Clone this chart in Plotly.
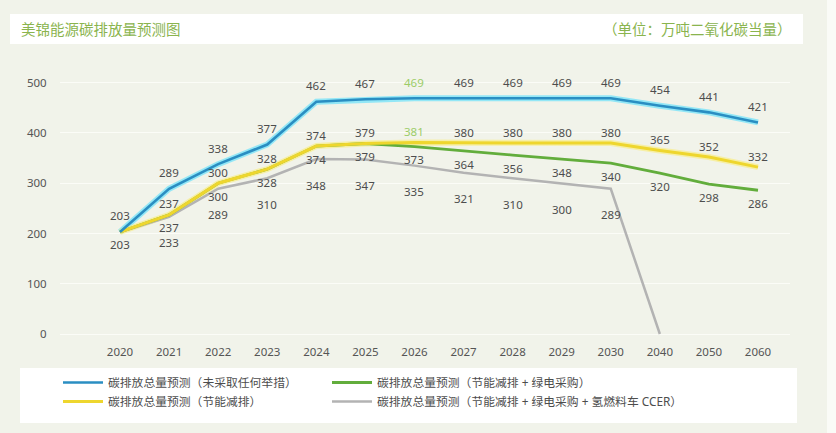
import plotly.graph_objects as go

years = ["2020", "2021", "2022", "2023", "2024", "2025", "2026", "2027",
         "2028", "2029", "2030", "2040", "2050", "2060"]
no_action = [203, 289, 338, 377, 462, 467, 469, 469, 469, 469, 469, 454, 441, 421]
energy_saving = [203, 237, 300, 328, 374, 379, 381, 380, 380, 380, 380, 365, 352, 332]
saving_green = [203, 237, 300, 328, 374, 379, 373, 364, 356, 348, 340, 320, 298, 286]
saving_green_h2 = [203, 233, 289, 310, 348, 347, 335, 321, 310, 300, 289, 0, None, None]

names = {
    "blue": "碳排放总量预测（未采取任何举措）",
    "green": "碳排放总量预测（节能减排 + 绿电采购）",
    "yellow": "碳排放总量预测（节能减排）",
    "gray": "碳排放总量预测（节能减排 + 绿电采购 + 氢燃料车 CCER）",
}
title_text = "美锦能源碳排放量预测图"
unit_text = "（单位：万吨二氧化碳当量）"

FONT = "Noto Sans, Noto Sans CJK SC, sans-serif"
TXT = "#4d4d4d"
HI = "#9ccc68"
BG = "#f1f3ea"

W, H = 836, 433
L, R, T, B = 60, 46, 60, 95
pw, ph = W - L - R, H - T - B


def px_x(p):
    return (p - L) / pw


def px_y(p):
    return (H - B - p) / ph


fig = go.Figure()

# soft glow under blue and yellow lines
fig.add_trace(go.Scatter(x=years, y=no_action, mode="lines",
                         line=dict(color="rgba(130,228,248,0.85)", width=6),
                         hoverinfo="skip", showlegend=False))
fig.add_trace(go.Scatter(x=years, y=energy_saving, mode="lines",
                         line=dict(color="rgba(250,236,120,0.6)", width=6),
                         hoverinfo="skip", showlegend=False))

fig.add_trace(go.Scatter(x=years, y=saving_green_h2, mode="lines", name=names["gray"],
                         line=dict(color="#b3b3b3", width=2.5), legend="legend2",
                         legendrank=2))
fig.add_trace(go.Scatter(x=years, y=saving_green, mode="lines", name=names["green"],
                         line=dict(color="#62ad3c", width=2.8), legend="legend2",
                         legendrank=1))
fig.add_trace(go.Scatter(x=years, y=energy_saving, mode="lines", name=names["yellow"],
                         line=dict(color="#eed62e", width=3), legend="legend",
                         legendrank=2))
fig.add_trace(go.Scatter(x=years, y=no_action, mode="lines", name=names["blue"],
                         line=dict(color="#2a8ec2", width=2.6), legend="legend",
                         legendrank=1))

annotations = []


def add_labels(values, shift, skip=(), highlight=()):
    for i, v in enumerate(values):
        if v is None or i in skip:
            continue
        annotations.append(dict(
            x=i, y=v, xref="x", yref="y", text=str(v), showarrow=False,
            yshift=shift,
            font=dict(family=FONT, size=11.5, color=HI if i in highlight else TXT)))


add_labels(no_action, 16, highlight=(6,))
add_labels(energy_saving, 11, skip=(0,), highlight=(6,))
add_labels(saving_green, -13)
add_labels(saving_green_h2, -26, skip=(0, 11))

annotations.append(dict(xref="paper", yref="paper", x=px_x(19), y=px_y(29),
                        xanchor="left", yanchor="middle", showarrow=False,
                        text=title_text,
                        font=dict(family=FONT, size=14.5, color="#8ab44e")))
annotations.append(dict(xref="paper", yref="paper", x=px_x(794), y=px_y(29),
                        xanchor="right", yanchor="middle", showarrow=False,
                        text=unit_text,
                        font=dict(family=FONT, size=14.5, color="#8ab44e")))

shapes = [
    dict(type="rect", xref="paper", yref="paper", layer="below",
         x0=px_x(827), x1=px_x(836), y0=px_y(0), y1=px_y(433),
         fillcolor="#fafbf7", line=dict(width=0)),
    dict(type="rect", xref="paper", yref="paper", layer="below",
         x0=px_x(10), x1=px_x(803), y0=px_y(44), y1=px_y(14),
         fillcolor="#ffffff", line=dict(width=0)),
    dict(type="rect", xref="paper", yref="paper", layer="below",
         x0=px_x(20), x1=px_x(797), y0=px_y(423), y1=px_y(368),
         fillcolor="#ffffff", line=dict(width=0)),
]

n = len(years)
x_lo = -(120 - L) / 49.08
x_hi = (n - 1) + (W - R - 758) / 49.08
y_lo = (334 - (H - B)) / 0.5026
y_hi = (334 - T) / 0.5026

legend_common = dict(orientation="v", bgcolor="rgba(0,0,0,0)",
                     font=dict(family=FONT, size=11.8, color=TXT),
                     itemwidth=40, tracegroupgap=0,
                     xanchor="left", yanchor="top")

fig.update_layout(
    width=W, height=H,
    margin=dict(l=L, r=R, t=T, b=B),
    paper_bgcolor=BG, plot_bgcolor=BG,
    showlegend=True,
    legend=dict(x=px_x(58), y=px_y(368), **legend_common),
    legend2=dict(x=px_x(327), y=px_y(368), **legend_common),
    annotations=annotations,
    shapes=shapes,
    xaxis=dict(type="category", range=[x_lo, x_hi], showgrid=False,
               zeroline=False, showline=False, ticks="outside", ticklen=3,
               tickcolor="rgba(0,0,0,0)",
               tickfont=dict(family=FONT, size=11.5, color="#555555")),
    yaxis=dict(range=[y_lo, y_hi], tickvals=[0, 100, 200, 300, 400, 500],
               showgrid=True, gridcolor="#fbfcf7", gridwidth=1, zeroline=False,
               showline=False, ticks="outside", ticklen=10,
               tickcolor="rgba(0,0,0,0)",
               tickfont=dict(family=FONT, size=11.5, color="#555555")),
)

fig.write_html("out.html", config={"displayModeBar": False},
               post_script="document.body.style.margin='0';")
